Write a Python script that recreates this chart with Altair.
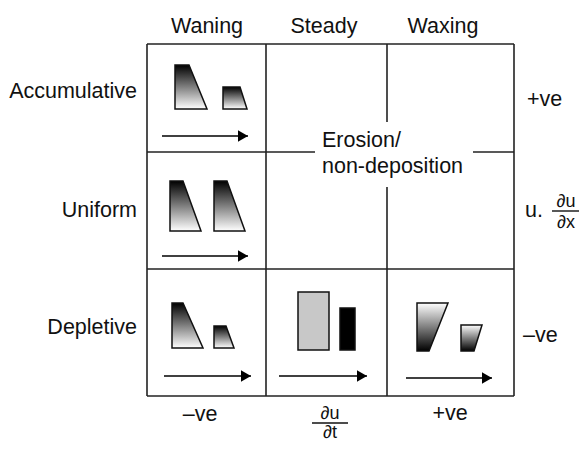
import altair as alt
import pandas as pd

# ---- diagram geometry (diagram units = image pixels) ----
# grid lines: x1, y1, x2, y2
line_x1 = [147, 147, 147, 514, 266, 387, 387, 147, 473, 147]
line_y1 = [44, 396, 44, 44, 44, 44, 187, 152, 152, 269]
line_x2 = [514, 514, 147, 514, 266, 387, 387, 315, 514, 514]
line_y2 = [44, 396, 396, 396, 396, 122, 396, 152, 152, 269]

# trapezoids: top y, bottom y, left x, right x at top, right x at bottom
wan_id = ["A1", "A2", "U1", "U2", "D1", "D2"]
wan_top = [65, 87, 181, 181, 303, 326]
wan_bot = [109, 109, 231, 231, 348, 348]
wan_left = [175, 223, 170, 214, 172, 214]
wan_rtop = [189, 240, 183, 227, 183, 226]
wan_rbot = [207, 247, 201, 245, 203, 234]

wax_id = ["X1", "X2"]
wax_top = [303, 325]
wax_bot = [351, 351]
wax_left = [417, 461]
wax_rtop = [448, 482]
wax_rbot = [429, 474]

# steady blocks
blk_x1 = [298, 340]
blk_x2 = [329, 355]
blk_y1 = [292, 308]
blk_y2 = [350, 350]
blk_fill = ["#c8c8c8", "#000000"]

# arrows
arr_x1 = [162, 162, 164, 279, 406]
arr_x2 = [248, 248, 251, 367, 492]
arr_y = [136, 256, 376, 376, 378]

# labels
col_labels = ["Waning", "Steady", "Waxing", "\u2013ve", "+ve"]
col_x = [207, 324, 443, 200, 450]
col_y = [33, 33, 33, 421, 420]

row_labels = ["Accumulative", "Uniform", "Depletive"]
row_x = [137, 137, 137]
row_y = [98, 217, 334]

left_labels = ["+ve", "u.", "\u2013ve", "Erosion/", "non-deposition"]
left_x = [527, 525, 523, 322, 322]
left_y = [106, 217, 342, 147, 173]

frac_num = ["\u2202u", "\u2202u"]
frac_den = ["\u2202x", "\u2202t"]
frac_cx = [566, 330]
frac_num_y = [207, 419]
frac_den_y = [228, 438]
frac_bar_x1 = [552, 312]
frac_bar_x2 = [580, 348]
frac_bar_y = [211, 423]

# ---- tables ----
lines = pd.DataFrame({"x1": line_x1, "y1": line_y1, "x2": line_x2, "y2": line_y2})


def trap_table(ids, top, bot, left, rtop, rbot):
    rows = []
    for i, t, b, l, rt, rb in zip(ids, top, bot, left, rtop, rbot):
        rows.append({"id": i, "y": t, "xl": l, "xr": rt})
        rows.append({"id": i, "y": b, "xl": l, "xr": rb})
    return pd.DataFrame(rows)


wan = trap_table(wan_id, wan_top, wan_bot, wan_left, wan_rtop, wan_rbot)
wax = trap_table(wax_id, wax_top, wax_bot, wax_left, wax_rtop, wax_rbot)
blocks = pd.DataFrame({"x1": blk_x1, "x2": blk_x2, "y1": blk_y1, "y2": blk_y2, "fill": blk_fill})
arrows = pd.DataFrame({"x1": arr_x1, "x2": arr_x2, "y": arr_y})
cols = pd.DataFrame({"x": col_x, "y": col_y, "t": col_labels})
rows_df = pd.DataFrame({"x": row_x, "y": row_y, "t": row_labels})
lefts = pd.DataFrame({"x": left_x, "y": left_y, "t": left_labels})
fr_num = pd.DataFrame({"x": frac_cx, "y": frac_num_y, "t": frac_num})
fr_den = pd.DataFrame({"x": frac_cx, "y": frac_den_y, "t": frac_den})
fr_bar = pd.DataFrame({"x1": frac_bar_x1, "x2": frac_bar_x2, "y": frac_bar_y})

# plot area = page minus the 8px margin; domains are page pixel coordinates
W, H = 571, 436
xs = alt.Scale(domain=[8, 8 + W], nice=False, zero=False)
ys = alt.Scale(domain=[8, 8 + H], nice=False, zero=False, reverse=True)
FONT = "Liberation Sans"
FS = 21.5
FS_FRAC = 18
INK = "#222222"


def X(f):
    return alt.X(f, type="quantitative", scale=xs, axis=None)


def Y(f):
    return alt.Y(f, type="quantitative", scale=ys, axis=None)


grid = alt.Chart(lines).mark_rule(stroke=INK, strokeWidth=1.6).encode(
    x=X("x1"), y=Y("y1"), x2="x2:Q", y2="y2:Q"
)

grad_down = alt.Gradient(
    gradient="linear",
    stops=[alt.GradientStop(color="#000000", offset=0),
           alt.GradientStop(color="#ffffff", offset=1)],
    x1=0, x2=0, y1=0, y2=1,
)
grad_up = alt.Gradient(
    gradient="linear",
    stops=[alt.GradientStop(color="#ffffff", offset=0),
           alt.GradientStop(color="#000000", offset=1)],
    x1=0, x2=0, y1=0, y2=1,
)

waning = alt.Chart(wan).mark_area(
    orient="horizontal", fill=grad_down, stroke="#111", strokeWidth=1.5, opacity=1
).encode(
    y=Y("y"), x=alt.X("xr:Q", scale=xs, axis=None, stack=None), x2="xl:Q", detail="id:N"
)
waxing = alt.Chart(wax).mark_area(
    orient="horizontal", fill=grad_up, stroke="#111", strokeWidth=1.5, opacity=1
).encode(
    y=Y("y"), x=alt.X("xr:Q", scale=xs, axis=None, stack=None), x2="xl:Q", detail="id:N"
)

blk = alt.Chart(blocks).mark_rect(stroke="#111", strokeWidth=1.5).encode(
    x=X("x1"), x2="x2:Q", y=Y("y1"), y2="y2:Q",
    fill=alt.Fill("fill:N", scale=None),
)

arr_line = alt.Chart(arrows).mark_rule(stroke="#000", strokeWidth=1.6).encode(
    x=X("x1"), x2="x2:Q", y=Y("y")
)
arr_head = alt.Chart(arrows).mark_point(
    shape="triangle-right", filled=True, size=135, color="#000", opacity=1, xOffset=-5
).encode(x=X("x2"), y=Y("y"))


def text_layer(df, align, size=FS):
    return alt.Chart(df).mark_text(
        font=FONT, fontSize=size, align=align, baseline="alphabetic", color="#111"
    ).encode(x=X("x"), y=Y("y"), text="t:N")


t_cols = text_layer(cols, "center")
t_rows = text_layer(rows_df, "right")
t_left = text_layer(lefts, "left")
t_num = text_layer(fr_num, "center", FS_FRAC)
t_den = text_layer(fr_den, "center", FS_FRAC)
bars = alt.Chart(fr_bar).mark_rule(stroke="#111", strokeWidth=1.4).encode(
    x=X("x1"), x2="x2:Q", y=Y("y")
)

chart = alt.layer(
    grid, waning, waxing, blk, arr_line, arr_head,
    t_cols, t_rows, t_left, t_num, t_den, bars,
).properties(
    width=W, height=H, padding=0, background="white",
    autosize=alt.AutoSizeParams(type="none"),
).configure_view(stroke=None)

chart.save("out.html", embed_options={"renderer": "svg", "actions": False})
